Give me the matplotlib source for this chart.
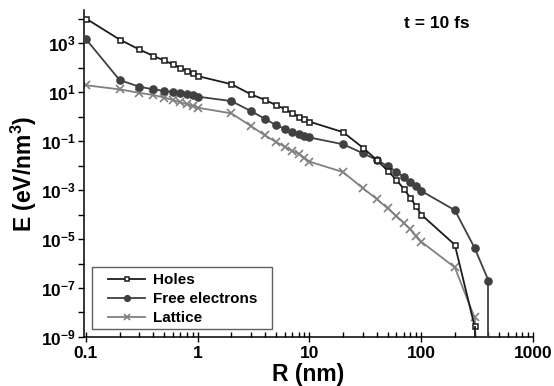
# ==========================================================
# ENERGY DENSITY PROFILE, t = 10 fs
# ==========================================================

import numpy as np
import matplotlib
matplotlib.use("Agg")
import matplotlib.pyplot as plt
from matplotlib.patches import Rectangle
from matplotlib.ticker import LogLocator, FixedLocator, FuncFormatter, NullFormatter

plt.rcParams["font.family"] = ["Liberation Sans", "DejaVu Sans"]
plt.rcParams["font.weight"] = "bold"
plt.rcParams["mathtext.fontset"] = "custom"
plt.rcParams["mathtext.rm"] = "Liberation Sans:bold"
plt.rcParams["mathtext.it"] = "Liberation Sans:bold"
plt.rcParams["mathtext.bf"] = "Liberation Sans:bold"

# ==========================================================
# DATA
# ==========================================================

r_holes = [0.1, 0.2, 0.3, 0.4, 0.5, 0.6, 0.7, 0.8, 0.9,
           1, 2, 3, 4, 5, 6, 7, 8, 9,
           10, 20, 30, 40, 50, 60, 70, 80, 90,
           100, 200, 300]
e_holes = [1.0e4, 1.4e3, 550, 300, 195, 135, 98, 74, 62,
           45, 21, 8.1, 4.8, 2.95, 2.05, 1.35, 1.0, 0.79,
           0.62, 0.23, 0.054, 0.017, 6.2e-3, 2.6e-3, 1.1e-3, 4.8e-4, 2.15e-4,
           1.0e-4, 5.8e-6, 2.8e-9]

r_free = [0.1, 0.2, 0.3, 0.4, 0.5, 0.6, 0.7, 0.8, 0.9,
          1, 2, 3, 4, 5, 6, 7, 8, 9,
          10, 20, 30, 40, 50, 60, 70, 80, 90,
          100, 200, 300, 400]
e_free = [1450, 31, 16.6, 12.9, 11.2, 10, 8.9, 8.1, 7.4,
          6.5, 4.3, 1.66, 0.81, 0.45, 0.32, 0.23, 0.19, 0.16,
          0.14, 0.074, 0.032, 0.017, 9.5e-3, 5.6e-3, 3.4e-3, 2.2e-3, 1.4e-3,
          9.2e-4, 1.5e-4, 4.4e-6, 2.0e-7]

r_lat = [0.1, 0.2, 0.3, 0.4, 0.5, 0.6, 0.7, 0.8, 0.9,
         1, 2, 3, 4, 5, 6, 7, 8, 9,
         10, 20, 30, 40, 50, 60, 70, 80, 90,
         100, 200, 300]
e_lat = [19, 12.9, 9.3, 7.6, 6.0, 4.7, 3.8, 3.2, 2.7,
         2.3, 1.35, 0.41, 0.17, 0.093, 0.059, 0.040, 0.030, 0.021,
         0.0145, 5.4e-3, 1.2e-3, 4.3e-4, 1.8e-4, 8.7e-5, 4.4e-5, 2.5e-5, 1.3e-5,
         7.8e-6, 6.9e-7, 6.3e-9]

Y_MIN = 1e-9
Y_MAX = 10 ** 4.35

# ==========================================================
# PLOT
# ==========================================================

fig = plt.figure(figsize=(5.54, 3.86), dpi=100)
ax = fig.add_axes([0.1516, 0.127, 0.8104, 0.847])

c_holes = "#1c1c1c"
c_free = "#404040"
c_lat = "#808080"

ax.plot(r_lat, e_lat, color=c_lat, linewidth=1.3,
        marker="x", markersize=6, markeredgewidth=1.2, label="Lattice", zorder=2)
ax.plot(r_free, e_free, color=c_free, linewidth=1.3,
        marker="o", markersize=5.2, label="Free electrons", zorder=3)
ax.plot(r_holes, e_holes, color=c_holes, linewidth=1.3,
        marker="s", markersize=3.6, markerfacecolor="white",
        markeredgewidth=1.1, label="Holes", zorder=4)

# curves drop to zero after the last point
ax.vlines(r_lat[-1], Y_MIN, e_lat[-1], color=c_lat, linewidth=1.3, zorder=2)
ax.vlines(r_holes[-1], Y_MIN, e_holes[-1], color=c_holes, linewidth=1.3, zorder=4)
ax.vlines(r_free[-1], Y_MIN, e_free[-1], color=c_free, linewidth=1.3, zorder=3)

ax.set_xscale("log")
ax.set_yscale("log")
ax.set_xlim(0.096, 1000)
ax.set_ylim(Y_MIN, Y_MAX)

# ticks
ax.yaxis.set_major_locator(FixedLocator([10.0 ** k for k in range(-9, 5)]))
ax.yaxis.set_minor_locator(FixedLocator([]))


def ylab(v, pos):
    k = int(round(np.log10(v)))
    if k % 2 == 0:
        return ""
    return r"$10^{%d}$" % k


ax.yaxis.set_major_formatter(FuncFormatter(ylab))
ax.xaxis.set_major_locator(FixedLocator([0.1, 1, 10, 100, 1000]))
ax.xaxis.set_major_formatter(FuncFormatter(lambda v, p: "%g" % v))
ax.xaxis.set_minor_locator(LogLocator(base=10, subs=np.arange(2, 10), numticks=20))
ax.xaxis.set_minor_formatter(NullFormatter())

ax.tick_params(axis="y", which="major", direction="out", length=4, width=1,
               labelsize=12.5, pad=2)
ax.tick_params(axis="x", which="major", direction="inout", length=7, width=1,
               labelsize=12.5, pad=3)
ax.tick_params(axis="x", which="minor", direction="in", length=3.5, width=1)

for s in ["top", "right"]:
    ax.spines[s].set_visible(False)
for s in ["left", "bottom"]:
    ax.spines[s].set_linewidth(1.1)

ax.set_xlabel("R (nm)", fontsize=16.5, fontweight="bold", labelpad=1.5)
ax.set_ylabel(r"E (eV/nm$^{3}$)", fontsize=16.5, fontweight="bold", labelpad=1)

ax.text(0.785, 0.96, "t = 10 fs", transform=ax.transAxes,
        fontsize=12.5, fontweight="bold", ha="center", va="center")

# legend in Holes / Free electrons / Lattice order, frame drawn separately
h, l = ax.get_legend_handles_labels()
order = [2, 1, 0]
leg = ax.legend([h[i] for i in order], [l[i] for i in order],
                loc="lower left", bbox_to_anchor=(0.0535, 0.036),
                fontsize=11, frameon=False,
                handlelength=2.45, handletextpad=0.5,
                labelspacing=0.32, borderpad=0.0, borderaxespad=0.0,
                markerscale=0.8)

ax.add_patch(Rectangle((0.0178, 0.0254), 0.4009, 0.1894,
                       transform=ax.transAxes, fill=False,
                       edgecolor="#606060", linewidth=1.0, zorder=5))

plt.savefig("out.png", dpi=100)
